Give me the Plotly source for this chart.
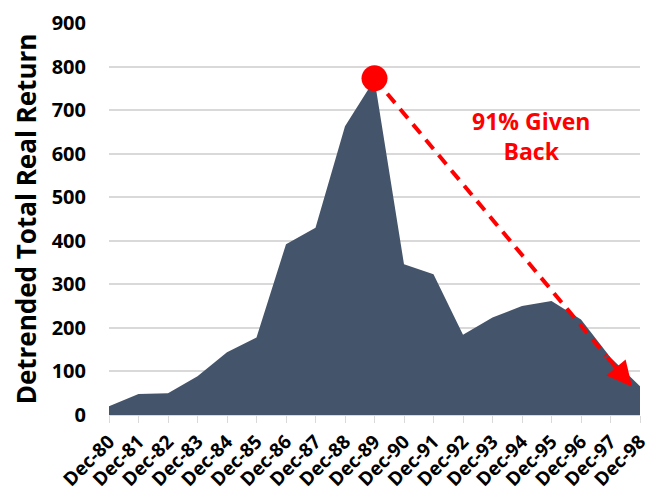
import plotly.graph_objects as go

labels = ["Dec-80", "Dec-81", "Dec-82", "Dec-83", "Dec-84", "Dec-85", "Dec-86", "Dec-87",
          "Dec-88", "Dec-89", "Dec-90", "Dec-91", "Dec-92", "Dec-93", "Dec-94", "Dec-95",
          "Dec-96", "Dec-97", "Dec-98"]
values = [20, 48, 50, 89, 144, 178, 392, 430, 663, 770, 346, 323, 184, 224, 250, 262, 219, 132, 66]
y_ticks = [0, 100, 200, 300, 400, 500, 600, 700, 800, 900]

peak_idx = 9
peak_val = 773
arrow_tip = (17.73, 65)
arrow_tail_frac = 0.9
note_pos = (14.3, 640)
note_text = "91% Given<br>Back"

x_idx = list(range(len(labels)))
font_fam = "'Open Sans', Lato, sans-serif"

fig = go.Figure()
fig.add_trace(go.Scatter(
    x=x_idx, y=values, mode="lines", fill="tozeroy",
    fillcolor="#44546A", line=dict(color="#44546A", width=0),
    hoverinfo="skip", showlegend=False))

# dashed arrow shaft
tx = peak_idx + (arrow_tip[0] - peak_idx) * arrow_tail_frac
ty = peak_val + (arrow_tip[1] - peak_val) * arrow_tail_frac
fig.add_trace(go.Scatter(
    x=[peak_idx, tx], y=[peak_val, ty], mode="lines",
    line=dict(color="#FF0000", width=4, dash="12px,8px"),
    hoverinfo="skip", showlegend=False))

# peak marker
fig.add_trace(go.Scatter(
    x=[peak_idx], y=[peak_val], mode="markers",
    marker=dict(color="#FF0000", size=26),
    hoverinfo="skip", showlegend=False))

# arrow head
fig.add_annotation(
    x=arrow_tip[0], y=arrow_tip[1], ax=tx, ay=ty, axref="x", ayref="y",
    xref="x", yref="y", text="", showarrow=True, arrowhead=2,
    arrowsize=1.25, arrowwidth=4, arrowcolor="#FF0000")

fig.add_annotation(
    x=note_pos[0], y=note_pos[1], xref="x", yref="y", text=note_text,
    showarrow=False, font=dict(family=font_fam, size=23, color="#FF0000", weight="bold"),
    align="center")

# page body adds an 8px offset; compensate so the plot lands where the reference has it
fig.update_layout(
    width=646, height=489,
    margin=dict(l=101, r=14, t=15, b=82),
    paper_bgcolor="white", plot_bgcolor="white",
    font=dict(family=font_fam, color="#000000"),
    showlegend=False,
)
fig.update_xaxes(
    range=[0, len(labels) - 1], tickmode="array", tickvals=x_idx, ticktext=labels,
    tickangle=-45, tickfont=dict(family=font_fam, size=19, color="#000000", weight="bold"),
    showgrid=False, zeroline=False, showline=True, linecolor="#D9D9D9", linewidth=1,
    ticks="outside", ticklen=7, tickcolor="#D9D9D9", tickwidth=1, automargin=False,
    ticklabeloverflow="allow")
fig.update_yaxes(
    range=[0, 900], tickmode="array", tickvals=y_ticks,
    tickfont=dict(family=font_fam, size=20, color="#000000", weight="bold"),
    showgrid=True, gridcolor="#D9D9D9", gridwidth=2, zeroline=False, showline=False,
    ticks="", ticklabelstandoff=22, automargin=False, ticklabeloverflow="allow",
    title=dict(text="Detrended Total Real Return", standoff=14,
               font=dict(family=font_fam, size=26, color="#000000", weight="bold")))

fig.write_html("out.html")
